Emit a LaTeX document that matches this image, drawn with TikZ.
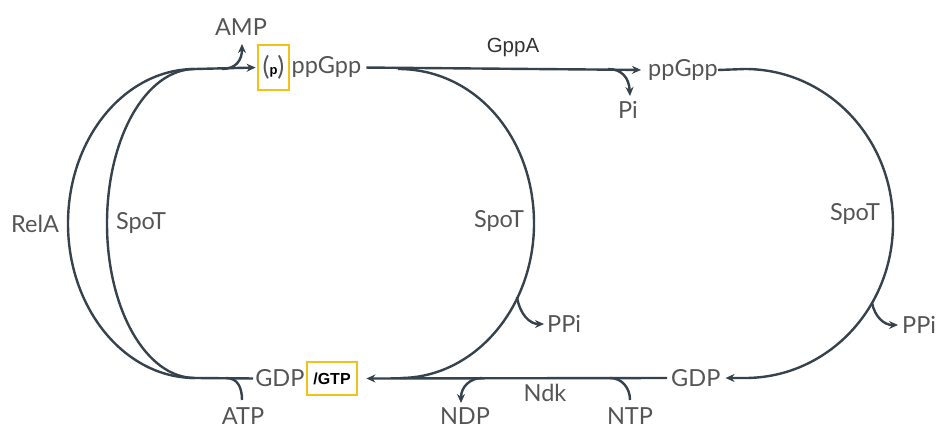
\documentclass[tikz,border=0pt]{standalone}
\usepackage{fontspec}
\usetikzlibrary{arrows.meta}
\newfontfamily\labelfont{Lato}
\newfontfamily\arialfont{Liberation Sans}

\definecolor{ink}{HTML}{36424C}
\definecolor{txt}{HTML}{555555}
\definecolor{gold}{HTML}{F2C21B}

\begin{document}
\begin{tikzpicture}[x=1pt,y=-1pt,
  flow/.style={draw=ink, line width=2.4pt},
  tip/.style={-{Stealth[length=9pt,width=8pt]}},
  lbl/.style={font=\labelfont\fontsize{23.5}{23.5}\selectfont, text=txt, inner sep=0pt},
  enz/.style={font=\arialfont\fontsize{20.5}{20.5}\selectfont, text=black!80, inner sep=0pt},
  hl/.style={draw=gold, line width=2.8pt, inner sep=0pt}]
\useasboundingbox (0,0) rectangle (939,430);

% metabolite labels
\node[hl, minimum width=31pt, minimum height=45pt, text=txt,
      font=\labelfont\fontsize{26}{26}\selectfont] (pbox) at (273.5,67.5)
      {(\raisebox{1pt}{\arialfont\bfseries\fontsize{13}{13}\selectfont\color{black}p})};
\node[lbl, anchor=west] (ppGpp) at ([xshift=1pt]pbox.east) {ppGpp};
\node[lbl] (amp) at (241,27) {AMP};
\node[lbl, anchor=west] (ppGppR) at (648,70) {ppGpp};
\node[lbl] (pi) at (628,110) {Pi};
\node[enz] (gppa) at (513,47) {GppA};

\node[hl, minimum width=50pt, minimum height=33pt,
      font=\arialfont\bfseries\fontsize{16}{16}\selectfont] (gtp) at (332,378.5) {/GTP};
\node[lbl, anchor=east] (gdp) at ([xshift=-1pt]gtp.west) {GDP};
\node[lbl] (atp) at (243,416) {ATP};
\node[lbl, anchor=west] (gdpR) at (671,378) {GDP};
\node[lbl] (ndp) at (465,416) {NDP};
\node[lbl] (ntp) at (630,416) {NTP};
\node[lbl] (ndk) at (545,393) {Ndk};

\node[lbl, anchor=west] (ppiM) at (547,324) {PPi};
\node[lbl, anchor=west] (ppiR) at (902,325) {PPi};

% enzyme labels on the arcs
\node[lbl] (rela) at (35,224) {RelA};
\node[lbl] (spotL) at (141,223) {SpoT};
\node[lbl] (spotM) at (499,221) {SpoT};
\node[lbl] (spotR) at (855,214) {SpoT};

% junction points
\coordinate (tl) at (195,69);
\coordinate (bl) at (195,378);
\coordinate (ma) at (398,69);
\coordinate (mb) at (400,378);
\coordinate (rs) at (745,69);
\coordinate (re) at (745,378);

% RelA and SpoT synthesis arcs
\draw[flow] (bl) .. controls (125,378) and (68,309) .. (68,223.5)
  .. controls (68,138) and (125,69) .. (tl);
\draw[flow] (bl) .. controls (146,378) and (107,309) .. (107,223.5)
  .. controls (107,138) and (146,69) .. (tl);
\draw[flow, tip, shorten >=1pt] (tl) -- (pbox.west);
\draw[flow, shorten <=2pt] (gdp.west) -- (bl);

% AMP out, ATP in
\coordinate (ampTip) at (242,44);
\draw[flow, tip] (222,69) .. controls (236,69) and (242,60) .. (ampTip);
\coordinate (atpEnd) at (242,400);
\draw[flow] (226,378) .. controls (238,378) and (242,388) .. (atpEnd);

% GppA step
\draw[flow, tip, shorten <=5pt, shorten >=7pt] (ppGpp.east) -- (ppGppR.west);
\coordinate (piTip) at (630,96);
\draw[flow, tip] (608,69) .. controls (622,69) and (629,78) .. (piTip);

% SpoT hydrolysis of (p)ppGpp
\draw[flow] (ma) .. controls (476,69) and (534,138) .. (534,223.5)
  .. controls (534,309) and (473.5,378) .. (mb);
\coordinate (ppiMTip) at (544,324);
\draw[flow, tip] (517,297) .. controls (520,315) and (530,324) .. (ppiMTip);

% SpoT hydrolysis of ppGpp
\draw[flow, tip, shorten >=5pt] (ppGppR.east) -- (rs)
  .. controls (827,69) and (893,138) .. (893,223.5)
  .. controls (893,309) and (827,378) .. (re) -- (gdpR.east);
\coordinate (ppiRTip) at (898,325);
\draw[flow, tip] (872,303) .. controls (875,317) and (884,325) .. (ppiRTip);

% Ndk step
\draw[flow, tip, shorten <=4pt, shorten >=8pt] (gdpR.west) -- (gtp.east);
\coordinate (ndpTip) at (461,403);
\draw[flow, tip] (482,378) .. controls (470,378) and (461,387) .. (ndpTip);
\coordinate (ntpEnd) at (630,400);
\draw[flow] (610,378) .. controls (622,378) and (630,388) .. (ntpEnd);
\end{tikzpicture}
\end{document}
